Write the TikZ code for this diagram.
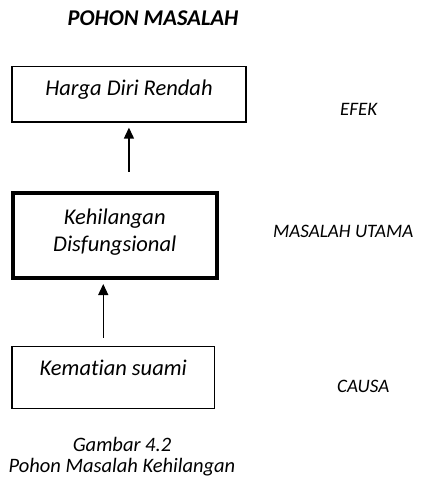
\documentclass[tikz,border=0pt]{standalone}
\usepackage{fontspec}
\setmainfont{Carlito}[Ligatures=NoCommon]
\usetikzlibrary{arrows.meta}

\begin{document}
\begin{tikzpicture}[x=1pt, y=-1pt, font=\fontsize{22.5}{27}\selectfont\itshape,
  box/.style={draw=black, line width=1.3pt, inner sep=0pt, align=center, anchor=north west},
  mainbox/.style={box, line width=4pt},
  side/.style={anchor=base west, inner sep=0pt, font=\fontsize{19}{23}\selectfont\itshape},
  arr/.style={-{Triangle[length=11pt, width=10pt]}, line width=1.3pt}]
\useasboundingbox (0,0) rectangle (438,500);
\node[anchor=base, inner sep=0pt, font=\fontsize{22.5}{27}\selectfont\bfseries\itshape] (title) at (153,26) {POHON MASALAH};
% pohon: efek, masalah utama, causa
\node[box, minimum width=234pt, text height=28.8pt, text depth=26.3pt] (efek) at (11.3,66.2) {Harga Diri Rendah};
\node[mainbox, minimum width=204.5pt, text height=58.8pt, text depth=26.7pt] (utama) at (10.5,190.5) {Kehilangan\\Disfungsional};
\node[box, minimum width=202.8pt, text height=29.5pt, text depth=33pt] (causa) at (11.2,345.5) {Kematian suami};
\node[side] (lefek) at (340,115) {EFEK};
\node[side] (lutama) at (273,237) {MASALAH UTAMA};
\node[side] (lcausa) at (337,392) {CAUSA};
\draw[arr, shorten <=19pt, shorten >=5pt] (utama.north -| efek.south) -- (efek.south);
\draw[arr, shorten <=8pt, shorten >=4pt] ([xshift=-10pt]causa.north) -- ([xshift=-10pt]causa.north |- utama.south);
\node[anchor=base, inner sep=0pt, align=center, font=\fontsize{20.5}{21}\selectfont\itshape] (cap) at (122,472) {Gambar 4.2\\Pohon Masalah Kehilangan};
\end{tikzpicture}
\end{document}
